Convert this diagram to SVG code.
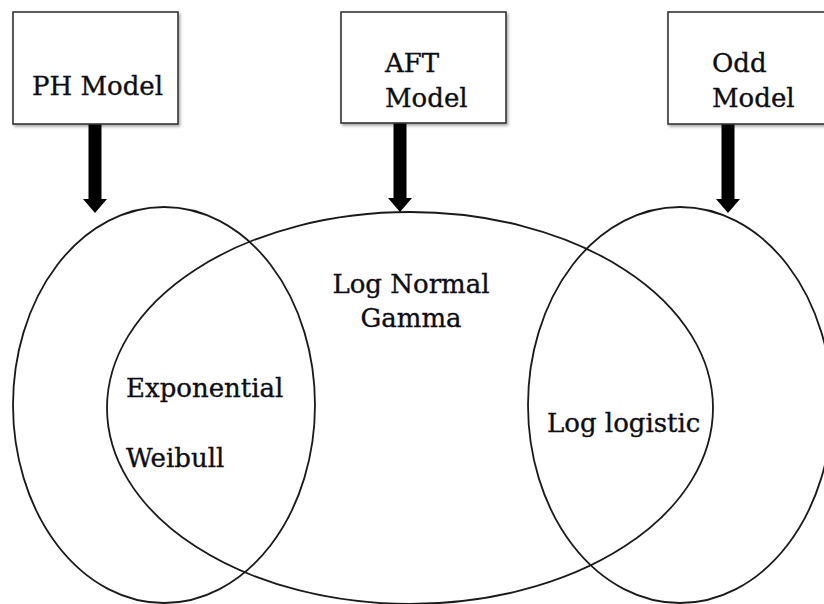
<svg xmlns="http://www.w3.org/2000/svg" width="824" height="604" viewBox="0 0 824 604">
  <defs>
    <filter id="shadow" x="-10%" y="-10%" width="130%" height="130%">
      <feDropShadow dx="1.5" dy="2" stdDeviation="1.5" flood-color="#000" flood-opacity="0.35"/>
    </filter>
    <marker id="head" viewBox="0 0 14 24" refX="0" refY="12" markerWidth="14" markerHeight="24" markerUnits="userSpaceOnUse" orient="auto">
      <path d="M0,0 L14,12 L0,24 Z" fill="#000"/>
    </marker>
    <style>
      .box { fill: #fff; stroke: #333; stroke-width: 1.6; filter: url(#shadow); }
      .set { fill: none; stroke: #1a1a1a; stroke-width: 1.8; }
      .lbl { font-family: "DejaVu Serif", "Liberation Serif", serif; font-size: 26px; fill: #0d0d14; stroke: #0d0d14; stroke-width: 0.35; }
      .conn { stroke: #000; stroke-width: 13; fill: none; marker-end: url(#head); }
    </style>
  </defs>
  <rect width="824" height="604" fill="#fff"/>

  <g id="set-ph"><ellipse class="set" cx="164" cy="405" rx="151" ry="198"/></g>
  <g id="set-aft"><ellipse class="set" cx="410" cy="408" rx="303" ry="196"/></g>
  <g id="set-odd"><ellipse class="set" cx="680" cy="405" rx="152" ry="198"/></g>

  <g id="labels">
    <text class="lbl" x="411" y="293" text-anchor="middle">Log Normal</text>
    <text class="lbl" x="411" y="327" text-anchor="middle">Gamma</text>
    <text class="lbl" x="126" y="397">Exponential</text>
    <text class="lbl" x="126" y="467">Weibull</text>
    <text class="lbl" x="547" y="432">Log logistic</text>
  </g>

  <g id="connectors">
    <line class="conn" x1="95" y1="124" x2="95" y2="199"/>
    <line class="conn" x1="400" y1="123" x2="400" y2="198"/>
    <line class="conn" x1="728" y1="124" x2="728" y2="199"/>
  </g>

  <g id="ph-model">
    <rect class="box" x="13" y="12" width="165" height="112"/>
    <text class="lbl" x="32" y="95">PH Model</text>
  </g>
  <g id="aft-model">
    <rect class="box" x="341" y="12" width="165" height="111"/>
    <text class="lbl" x="385" y="72">AFT</text>
    <text class="lbl" x="385" y="107">Model</text>
  </g>
  <g id="odd-model">
    <rect class="box" x="668" y="12" width="165" height="112"/>
    <text class="lbl" x="712" y="72">Odd</text>
    <text class="lbl" x="712" y="107">Model</text>
  </g>
</svg>
